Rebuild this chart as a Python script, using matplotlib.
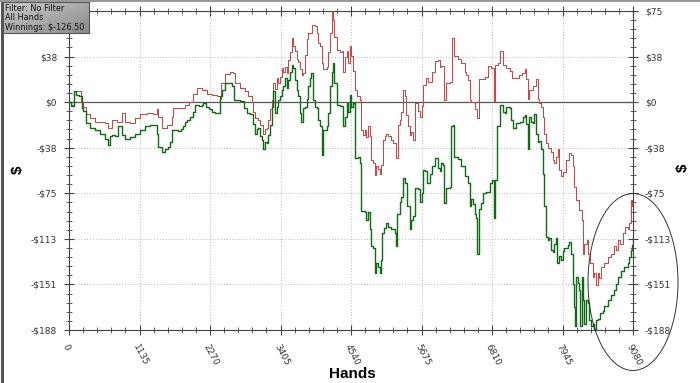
import numpy as np
import matplotlib
matplotlib.use("Agg")
import matplotlib.pyplot as plt
from matplotlib.patches import Ellipse
from matplotlib.lines import Line2D

# values (hands, dollars)
green_hands = [0, 40, 81, 120, 167, 204, 231, 274, 338, 419, 500, 580, 634, 660, 688, 742, 795, 849, 903, 983,
               1064, 1144, 1225, 1306, 1380, 1413, 1440, 1493, 1550, 1601, 1630, 1655, 1710, 1762, 1810, 1843,
               1870, 1896, 1950, 2004, 2031, 2085, 2138, 2165, 2200, 2246, 2300, 2353, 2400, 2423, 2461, 2514,
               2568, 2622, 2649, 2702, 2757, 2810, 2864, 2910, 2967, 2993, 3020, 3047, 3074, 3101, 3128, 3155,
               3181, 3208, 3235, 3262, 3289, 3316, 3343, 3370, 3396, 3423, 3450, 3477, 3504, 3531, 3558, 3584,
               3611, 3638, 3665, 3692, 3719, 3735, 3773, 3799, 3826, 3853, 3880, 3895, 3934, 3960, 3987, 4014,
               4041, 4068, 4095, 4149, 4176, 4202, 4229, 4245, 4272, 4310, 4364, 4417, 4444, 4471, 4498, 4519,
               4546, 4575, 4600, 4654, 4680, 4707, 4760, 4788, 4815, 4842, 4869, 4895, 4922, 4949, 4976, 5003,
               5019, 5040, 5073, 5110, 5137, 5191, 5245, 5272, 5288, 5325, 5352, 5379, 5406, 5449, 5486, 5513,
               5540, 5578, 5621, 5648, 5675, 5701, 5728, 5771, 5809, 5836, 5889, 5943, 5965, 5991, 6018, 6045,
               6072, 6126, 6153, 6180, 6206, 6260, 6314, 6368, 6421, 6448, 6475, 6502, 6529, 6556, 6572, 6593,
               6636, 6663, 6717, 6744, 6771, 6808, 6840, 6862, 6894, 6932, 6958, 6985, 7012, 7039, 7093, 7120,
               7147, 7200, 7254, 7308, 7335, 7362, 7388, 7404, 7442, 7464, 7490, 7517, 7544, 7571, 7598, 7625,
               7652, 7679, 7705, 7732, 7759, 7786, 7813, 7840, 7856, 7893, 7920, 7947, 7974, 8028, 8055, 8082,
               8108, 8135, 8151, 8167, 8190, 8216, 8232, 8253, 8270, 8296, 8323, 8350, 8377, 8404, 8430, 8457,
               8484, 8522, 8554, 8590, 8619, 8673, 8726, 8769, 8807, 8844, 8887, 8941, 8995, 9022, 9049, 9065, 9080]
green_vals = [0, -3, 9, 6, 5, -5, -7, -17, -21, -23, -26, -30, -35, -28, -27, -28, -20, -27, -30, -29,
              -26, -23, -20, -19, -19, -26, -37, -41, -39, -37, -33, -23, -23, -24, -22, -20,
              -16, -15, -12, -8, -2, -3, -2, -1, -4, -6, -8, -9, -9, 5, 10, 16,
              16, 13, 2, 2, 1, -5, -9, -10, -18, -26, -22, -21, -28, -31, -39, -33,
              -34, -27, -19, -4, 9, -9, -4, 2, 5, 10, 13, 20, 12, 18, 25, 31,
              28, 18, 10, 5, -9, -16, -5, -4, 3, 13, 20, 24, 2, -4, -5, -15,
              -20, -44, -23, -20, -9, 13, 25, 32, 16, -2, -3, -20, -12, -1, -8, 6,
              -4, -1, -46, -45, -50, -90, -91, -97, -91, -105, -119, -120, -141, -133, -136, -141,
              -130, -108, -104, -100, -103, -105, -108, -119, -92, -82, -78, -63, -67, -86, -105, -97,
              -94, -71, -72, -82, -75, -56, -57, -67, -59, -53, -46, -54, -57, -50, -52, -83,
              -71, -70, -20, -19, -45, -47, -53, -61, -67, -86, -80, -84, -92, -96, -125, -88,
              -83, -75, -74, -74, -67, -64, -96, -64, -20, -2, -2, -8, -9, -4, -5, -15,
              -21, -17, -16, -12, -11, -18, -39, -12, -16, -17, -10, -26, -33, -32, -39, -59,
              -86, -111, -114, -112, -122, -124, -117, -112, -133, -127, -130, -123, -120, -118, -115, -125,
              -150, -169, -185, -144, -149, -155, -185, -144, -163, -183, -163, -166, -180, -185, -183, -187,
              -180, -179, -174, -172, -168, -163, -159, -155, -150, -144, -139, -136, -133, -128, -122, -118, -112]

red_hands = [0, 40, 81, 150, 188, 231, 274, 338, 419, 500, 580, 634, 688, 768, 849, 903, 983, 1064, 1144, 1252,
             1359, 1413, 1440, 1494, 1574, 1655, 1682, 1789, 1870, 1924, 2004, 2058, 2138, 2219, 2300, 2380,
             2423, 2445, 2515, 2595, 2638, 2676, 2757, 2837, 2886, 2940, 2967, 2993, 3047, 3074, 3128, 3160,
             3181, 3208, 3235, 3262, 3289, 3316, 3343, 3370, 3396, 3423, 3450, 3477, 3504, 3531, 3558, 3584,
             3611, 3638, 3665, 3692, 3719, 3746, 3773, 3799, 3826, 3853, 3907, 3961, 3987, 4014, 4041, 4068,
             4095, 4149, 4176, 4202, 4229, 4245, 4272, 4310, 4364, 4396, 4417, 4444, 4471, 4498, 4519, 4546,
             4573, 4600, 4637, 4680, 4707, 4734, 4761, 4788, 4815, 4842, 4869, 4895, 4922, 4949, 4976, 5003,
             5030, 5057, 5084, 5110, 5137, 5191, 5218, 5272, 5298, 5325, 5352, 5379, 5406, 5433, 5460, 5486,
             5513, 5540, 5578, 5621, 5648, 5675, 5701, 5755, 5782, 5836, 5889, 5938, 5965, 5991, 6045, 6072,
             6126, 6163, 6206, 6260, 6314, 6368, 6394, 6421, 6448, 6475, 6529, 6572, 6593, 6636, 6690, 6744,
             6798, 6840, 6862, 6900, 6932, 6985, 7039, 7093, 7131, 7189, 7240, 7292, 7335, 7362, 7388, 7410,
             7464, 7517, 7544, 7571, 7598, 7625, 7652, 7679, 7705, 7759, 7786, 7813, 7840, 7867, 7893, 7920,
             7947, 8001, 8055, 8082, 8108, 8135, 8162, 8216, 8253, 8270, 8296, 8339, 8361, 8393, 8431, 8457,
             8484, 8511, 8538, 8565, 8619, 8673, 8726, 8769, 8807, 8834, 8877, 8914, 8952, 8995, 9022, 9049,
             9065, 9080]
red_vals = [0, -2, 9, 9, 0, -4, -10, -13, -16, -16, -17, -21, -15, -16, -9, -16, -17, -13, -10, -9,
            -10, -6, -12, -21, -19, -12, -5, -5, -2, 0, 7, 12, 10, 7, 6, 5,
            3, 16, 23, 25, 24, 16, 12, 9, 5, 0, -8, -13, -15, -19, -26, -22,
            -21, -15, -6, 2, 16, 11, 20, 16, 21, 28, 25, 29, 24, 35, 41, 53,
            46, 42, 36, 33, 27, 22, 24, 39, 52, 57, 64, 63, 57, 49, 46, 32,
            27, 29, 41, 57, 75, 68, 54, 43, 41, 42, 25, 37, 42, 32, 46, 38,
            26, 10, 5, 2, -23, -27, -23, -29, -20, -28, -48, -50, -60, -53, -55, -59,
            -52, -31, -28, -26, -28, -31, -34, -46, -19, -15, -8, 10, 5, -11, -20, -27,
            -25, -31, -1, -7, -12, -3, 14, 20, 17, 25, 34, 35, 29, 30, 2, 16,
            17, 53, 38, 36, 32, 25, 22, 18, 2, 0, -6, -13, 19, 19, 21, 30,
            28, 1, 31, 32, 42, 31, 28, 26, 20, 20, 22, 24, 27, 19, 3, 10,
            13, 19, 3, -1, -4, -12, -26, -34, -38, -41, -48, -50, -45, -39, -56, -61,
            -58, -48, -42, -44, -53, -70, -81, -89, -97, -125, -117, -114, -125, -133, -144, -141,
            -151, -141, -145, -136, -133, -128, -125, -119, -122, -114, -117, -108, -103, -105, -100, -81,
            -86, -78]

x_ticks = [0, 1135, 2270, 3405, 4540, 5675, 6810, 7945, 9080]
y_ticks = [75.2, 37.6, 0, -37.6, -75.2, -112.8, -150.4, -188]
y_labels = ["$75", "$38", "$0", "-$38", "-$75", "-$113", "-$151", "-$188"]
info_lines = ["Filter: No Filter", "All Hands", "Winnings: $-126.50"]

W, H = 700, 383
fig = plt.figure(figsize=(W / 100, H / 100), dpi=100)
ax = fig.add_axes([69 / W, 1 - 330 / H, (633 - 69) / W, (330 - 11) / H])

ax.plot(red_hands, red_vals, color="#d23c3c", lw=0.7, drawstyle="steps-post", zorder=3)
ax.plot(green_hands, green_vals, color="#0f6a14", lw=1.0, drawstyle="steps-post", zorder=4)
ax.axhline(0, color="#555555", lw=0.9, zorder=2)

ax.set_xlim(0, 9080)
ax.set_ylim(-188, 75.2)
ax.set_xticks(x_ticks)
ax.set_xticks(np.arange(0, 9081, 227), minor=True)
ax.set_yticks(y_ticks)
ax.set_yticks(np.arange(-188, 75.3, 7.52), minor=True)
ax.set_yticklabels(y_labels)
ax.set_xticklabels([str(t) for t in x_ticks], rotation=-62, ha="left", va="top",
                   rotation_mode="anchor")
ax.grid(True, which="major", linestyle=(0, (1, 2)), color="#b8b8b8", lw=0.7)

for s in ax.spines.values():
    s.set_color("#444444")
    s.set_linewidth(0.8)
ax.tick_params(which="major", direction="inout", length=7, width=0.8, color="#444444",
               labelsize=6.5, labelcolor="#333333", top=True, right=True, labelright=True)
ax.tick_params(which="minor", direction="inout", length=4, width=0.6, color="#444444",
               top=True, right=True)
ax.tick_params(axis="y", pad=5)
ax.tick_params(axis="x", pad=6)
# the left $75 label sits under the info box in the reference
ax.yaxis.get_major_ticks()[0].label1.set_visible(False)

fig.text(352 / W, 1 - 374 / H, "Hands", fontsize=11, fontweight="bold", family="Liberation Sans",
         ha="center", va="center")
fig.text(18 / W, 1 - 170 / H, "$", fontsize=11, fontweight="bold", family="Liberation Sans",
         rotation=90, ha="center", va="center")
fig.text(683 / W, 1 - 168 / H, "$", fontsize=11, fontweight="bold", family="Liberation Sans",
         rotation=90, ha="center", va="center")

# circled region near the end
fig.add_artist(Ellipse((633 / W, 1 - 282 / H), 90 / W, 177 / H, transform=fig.transFigure,
                       fill=False, edgecolor="#333333", lw=0.7))

# info box with a grey gradient
box = fig.add_axes([2 / W, 1 - 33 / H, 87 / W, 31 / H])
grad = np.add.outer(np.linspace(0, 0.12, 31), np.linspace(0, 0.14, 87))
box.imshow(0.8 - grad, cmap="gray", vmin=0, vmax=1, aspect="auto")
box.set_xticks([])
box.set_yticks([])
for s in box.spines.values():
    s.set_color("#555555")
    s.set_linewidth(0.8)
for i, line in enumerate(info_lines):
    box.text(0.04, 0.80 - i * 0.31, line, transform=box.transAxes, fontsize=5.9, va="center",
             color="#111111")

# frame lines on the left and top of the image
fig.add_artist(Line2D([1.5 / W, 1.5 / W], [0, 1], transform=fig.transFigure, color="#555555", lw=2.2))
fig.add_artist(Line2D([0, 1], [1 - 1 / H, 1 - 1 / H], transform=fig.transFigure, color="#999999", lw=1.5))

fig.savefig("out.png", dpi=100)
